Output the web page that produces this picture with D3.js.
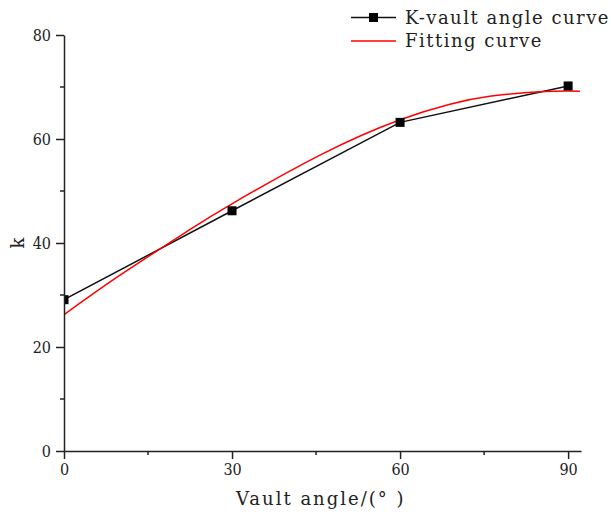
<!DOCTYPE html>
<html>
<head>
<meta charset="utf-8">
<script src="https://cdn.jsdelivr.net/npm/d3@7"></script>
<style>
  body { margin: 0; background: #fff; }
  svg { display: block; }
</style>
</head>
<body>
<svg id="chart" width="611" height="512"></svg>
<script>
// measured series
const angles = [0, 30, 60, 90]
const kValues = [29.1, 46.2, 63.2, 70.2]

// fitting curve
const fitX = [0, 10, 22.5, 29.6, 45.7, 60, 68.9, 76, 85, 92.1]
const fitK = [26.2, 33.8, 42.6, 47.3, 56.9, 63.7, 66.7, 68.2, 69.1, 69.2]

const xTicks = [0, 30, 60, 90]
const xMinor = [15, 45, 75]
const yTicks = [0, 20, 40, 60, 80]
const yMinor = [10, 30, 50, 70]

const legendItems = ['K-vault angle curve', 'Fitting curve']

const serif = '"DejaVu Serif", serif'

const box = {left: 64, right: 581, top: 35, bottom: 451}
const svg = d3.select('#chart')

const x = d3.scaleLinear().domain([0, 92.3]).range([box.left, box.right])
const y = d3.scaleLinear().domain([0, 80]).range([box.bottom, box.top])

svg.append('clipPath').attr('id', 'plot')
  .append('rect')
  .attr('x', box.left).attr('y', 0)
  .attr('width', box.right - box.left + 10).attr('height', box.bottom)

// data
const data = svg.append('g').attr('clip-path', 'url(#plot)')
const line = d3.line().x(d => x(d[0])).y(d => y(d[1]))
const fitLine = d3.line().x(d => x(d[0])).y(d => y(d[1])).curve(d3.curveNatural)

data.append('path')
  .attr('d', line(angles.map((a, i) => [a, kValues[i]])))
  .attr('fill', 'none').attr('stroke', '#111').attr('stroke-width', 1.5)

data.append('path')
  .attr('d', fitLine(fitX.map((a, i) => [a, fitK[i]])))
  .attr('fill', 'none').attr('stroke', '#f00').attr('stroke-width', 1.5)

const ms = 9
data.selectAll('rect.pt').data(angles).join('rect')
  .attr('class', 'pt')
  .attr('x', d => x(d) - ms / 2)
  .attr('y', (d, i) => y(kValues[i]) - ms / 2)
  .attr('width', ms).attr('height', ms)
  .attr('fill', '#000')

// axes
const xAxis = svg.append('g').attr('transform', `translate(0,${box.bottom})`)
xAxis.call(d3.axisBottom(x).tickValues(xTicks).tickSize(8).tickPadding(5).tickSizeOuter(0))
xAxis.selectAll('line.minor').data(xMinor).join('line')
  .attr('class', 'minor')
  .attr('x1', d => x(d)).attr('x2', d => x(d))
  .attr('y1', 0).attr('y2', 4)

const yAxis = svg.append('g').attr('transform', `translate(${box.left},0)`)
yAxis.call(d3.axisLeft(y).tickValues(yTicks).tickSize(8).tickPadding(5).tickSizeOuter(0))
yAxis.selectAll('line.minor').data(yMinor).join('line')
  .attr('class', 'minor')
  .attr('x1', 0).attr('x2', -4)
  .attr('y1', d => y(d)).attr('y2', d => y(d))

svg.selectAll('.domain, .tick line, line.minor').attr('stroke', '#222').attr('stroke-width', 1.5)
svg.selectAll('.tick text')
  .attr('fill', '#222')
  .attr('font-family', serif)
  .attr('font-stretch', 'condensed')
  .attr('font-size', 16)

// titles
svg.append('text')
  .attr('x', 236).attr('y', 505)
  .attr('fill', '#222')
  .attr('font-family', serif)
  .attr('font-size', 18)
  .attr('letter-spacing', 2)
  .text('Vault angle/(° )')

svg.append('text')
  .attr('transform', `translate(24,${y(40)}) rotate(-90)`)
  .attr('text-anchor', 'middle')
  .attr('fill', '#222')
  .attr('font-family', serif)
  .attr('font-size', 18)
  .text('k')

// legend
const legend = svg.append('g')
legend.selectAll('g').data(legendItems).join('g')
  .attr('transform', (d, i) => `translate(351,${17.5 + i * 23.5})`)
  .each(function (d, i) {
    const g = d3.select(this)
    g.append('line').attr('x1', 0).attr('x2', 45)
      .attr('stroke', i === 0 ? '#111' : '#f00').attr('stroke-width', 1.5)
    if (i === 0) {
      g.append('rect').attr('x', 22.5 - 4.5).attr('y', -4.5)
        .attr('width', 9).attr('height', 9).attr('fill', '#000')
    }
    g.append('text')
      .attr('x', 54).attr('dy', '0.35em')
      .attr('fill', '#222')
      .attr('font-family', serif)
      .attr('font-size', 18)
      .attr('letter-spacing', 1.5)
      .text(d)
  })
</script>
</body>
</html>
